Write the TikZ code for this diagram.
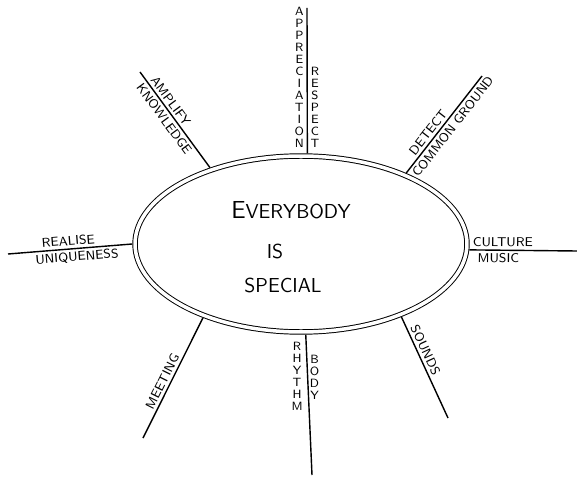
\documentclass[tikz,border=0pt]{standalone}
\usetikzlibrary{shapes.geometric}
\tikzset{
    hubshape/.style={draw, ellipse, double, double distance=2pt, line width=0.55pt,
        minimum width=6.64cm, minimum height=3.52cm, inner sep=0pt, outer sep=1.6pt},
    hubtext/.style={font=\sffamily\fontsize{11.5}{13}\selectfont, inner sep=0pt},
    spoke/.style={line width=0.8pt},
    spokelab/.style={font=\sffamily\fontsize{7.3}{8}\selectfont, sloped, inner sep=1.5pt},
    stacklab/.style={font=\sffamily\fontsize{6.8}{6.8}\selectfont, align=center, inner sep=1.5pt}
}

\begin{document}
\begin{tikzpicture}[x=0.02cm, y=-0.02cm]
\useasboundingbox (0,0) rectangle (577,479);
\node[hubshape] (hub) at (301,244) {};
\node[hubtext] (every) at (291,210) {{\fontsize{14}{14}\selectfont E}VERYBODY};
\node[hubtext] (is) at (275,251) {IS};
\node[hubtext] (special) at (283,285) {SPECIAL};
\coordinate (topend) at (307,8);
\coordinate (tlend) at (140,72);
\coordinate (trend) at (482,76);
\coordinate (leftend) at (8,254);
\coordinate (rightend) at (577,251);
\coordinate (blend) at (143,438);
\coordinate (botend) at (312,475);
\coordinate (brend) at (448,418);
\draw[spoke] (hub.86) -- node[stacklab, anchor=south east, pos=0.02] (appr) {A\\P\\P\\R\\E\\C\\I\\A\\T\\I\\O\\N}
    node[stacklab, anchor=south west, pos=0.02] (resp) {R\\E\\S\\P\\E\\C\\T} (topend);
\draw[spoke] (hub.140) -- node[spokelab, above, pos=0.65] (ampl) {AMPLIFY}
    node[spokelab, below, pos=0.56] (know) {KNOWLEDGE} (tlend);
\draw[spoke] (hub.34) -- node[spokelab, above, pos=0.37] (detect) {DETECT}
    node[spokelab, below, pos=0.53] (common) {COMMON GROUND} (trend);
\draw[spoke] (hub.180) -- node[spokelab, above, pos=0.51] (realise) {REALISE}
    node[spokelab, below, pos=0.45] (unique) {UNIQUENESS} (leftend);
\draw[spoke] (hub.358) -- node[spokelab, above, pos=0.31] (culture) {CULTURE}
    node[spokelab, below, pos=0.27] (music) {MUSIC} (rightend);
\draw[spoke] (hub.217) -- node[spokelab, above, pos=0.56] (meeting) {MEETING} (blend);
\draw[spoke] (hub.273) -- node[stacklab, anchor=north east, pos=0.03] (rhythm) {R\\H\\Y\\T\\H\\M}
    node[stacklab, anchor=north west, pos=0.12] (body) {B\\O\\D\\Y} (botend);
\draw[spoke] (hub.324) -- node[spokelab, above, pos=0.36] (sounds) {SOUNDS} (brend);
\end{tikzpicture}
\end{document}
